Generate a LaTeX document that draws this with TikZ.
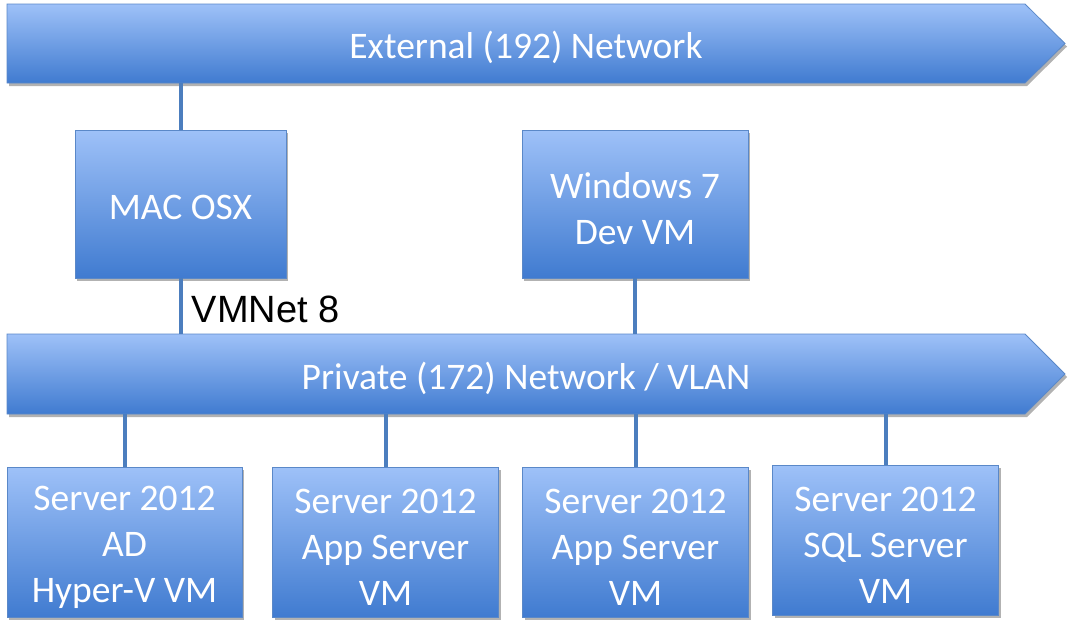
\documentclass[tikz,border=0pt]{standalone}
\usepackage{fontspec}
\usetikzlibrary{shadows}
\newfontfamily\boxfont{Carlito}
\newfontfamily\tagfont{Liberation Sans}
\definecolor{paneltop}{RGB}{158,193,248}
\definecolor{panelbot}{RGB}{64,123,208}
\definecolor{panelline}{RGB}{90,136,200}
\definecolor{wirecol}{RGB}{76,126,190}

\begin{document}
\begin{tikzpicture}[
    x=1pt, y=-1pt,
    panel/.style={draw=panelline, line width=0.8pt, top color=paneltop, bottom color=panelbot,
        drop shadow={shadow xshift=2pt, shadow yshift=-3pt, opacity=0.3, fill=black},
        inner sep=0pt},
    boxtext/.style={text=white, align=center, yshift=-5pt,
        font=\boxfont\fontsize{37.5}{46}\selectfont},
    hostbox/.style={panel, minimum width=211pt, minimum height=148pt},
    vmbox/.style={panel, minimum width=226pt, minimum height=150pt},
    wire/.style={wirecol, line width=4pt},
]

\def\tipx{1025}  % start of the arrow point
\def\endx{1065}  % arrow tip

\useasboundingbox (0,0) rectangle (1072,630);

% ── Networks ────────────────────────────────────────────────
\path[panel] (7,4) -- (\tipx,4) -- (\endx,43.5) -- (\tipx,83) -- (7,83) -- cycle;
\coordinate (extbot) at (7,83);
\node[boxtext, yshift=1pt] (extnet) at (526,43.5) {External (192) Network};

\path[panel] (7,334) -- (\tipx,334) -- (\endx,374) -- (\tipx,414) -- (7,414) -- cycle;
\coordinate (privtop) at (7,334);
\coordinate (privbot) at (7,414);
\node[boxtext, yshift=1pt] (privnet) at (526,374) {Private (172) Network / VLAN};

% ── Hosts ───────────────────────────────────────────────────
\node[hostbox, label={[boxtext, yshift=2pt]center:MAC OSX}] (mac) at (180.5, 204) {};
\node[hostbox, minimum width=226pt, label={[boxtext]center:Windows 7\\Dev VM}]
    (win) at (635, 204) {};

% ── Servers ─────────────────────────────────────────────────
\node[vmbox, minimum width=235pt, label={[boxtext]center:Server 2012\\AD\\Hyper-V VM}]
    (srvad) at (124.5, 542) {};
\node[vmbox, label={[boxtext]center:Server 2012\\App Server\\VM}] (srvapp) at (385.5, 542) {};
\node[vmbox, label={[boxtext]center:Server 2012\\App Server\\VM}] (srvappb) at (635.5, 542) {};
\node[vmbox, label={[boxtext]center:Server 2012\\SQL Server\\VM}] (srvsql) at (885.5, 540) {};

% ── Links ───────────────────────────────────────────────────
\draw[wire] (mac.north) -- (mac.north |- extbot);
\draw[wire] (mac.south) -- (mac.south |- privtop)
    node[pos=0.55, right=6pt, text=black, font=\tagfont\fontsize{38}{44}\selectfont] (vmnet) {VMNet 8};
\draw[wire] (win.south) -- (win.south |- privtop);
\foreach \s in {srvad, srvapp, srvappb, srvsql}
    \draw[wire] (\s.north) -- (\s.north |- privbot);

\end{tikzpicture}
\end{document}
